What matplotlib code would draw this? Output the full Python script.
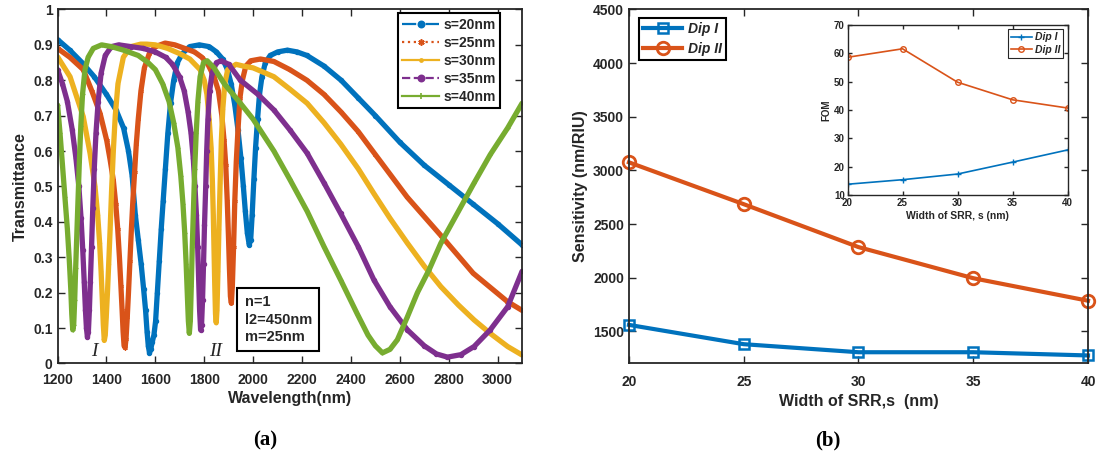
import matplotlib.pyplot as plt
from matplotlib.lines import Line2D

plt.rcParams["font.family"] = ["Liberation Sans", "DejaVu Sans"]
plt.rcParams["font.weight"] = "bold"
plt.rcParams["text.color"] = "#262626"
plt.rcParams["axes.labelcolor"] = "#262626"
plt.rcParams["xtick.color"] = "#262626"
plt.rcParams["ytick.color"] = "#262626"

# ---- (a) transmittance spectra for different SRR widths ----
wl_s20 = [1200, 1250, 1300, 1350, 1400, 1440, 1470, 1490, 1505, 1518, 1530, 1542, 1552, 1560,
          1566, 1571, 1576, 1581, 1587, 1594, 1601, 1608, 1616, 1624, 1632, 1641, 1651, 1662,
          1675, 1690, 1710, 1740, 1780, 1820, 1850, 1875, 1895, 1910, 1925, 1938, 1950, 1960,
          1968, 1976, 1984, 1990, 1996, 2003, 2010, 2018, 2026, 2036, 2050, 2070, 2100, 2140,
          2180, 2220, 2290, 2360, 2430, 2500, 2600, 2700, 2800, 2900, 3000, 3100]
t_s20 = [0.915, 0.885, 0.85, 0.81, 0.76, 0.715, 0.665, 0.60, 0.53, 0.42, 0.35, 0.28, 0.21, 0.15,
         0.09, 0.05, 0.03, 0.04, 0.06, 0.08, 0.12, 0.20, 0.29, 0.38, 0.46, 0.55, 0.65, 0.735,
         0.80, 0.85, 0.875, 0.895, 0.90, 0.895, 0.88, 0.86, 0.83, 0.79, 0.73, 0.66, 0.58, 0.50,
         0.43, 0.37, 0.335, 0.35, 0.42, 0.52, 0.61, 0.69, 0.76, 0.81, 0.85, 0.87, 0.88, 0.885,
         0.88, 0.87, 0.84, 0.80, 0.75, 0.70, 0.625, 0.56, 0.505, 0.45, 0.395, 0.335]

wl_s25 = [1200, 1250, 1305, 1340, 1374, 1401, 1415, 1428, 1438, 1446, 1453, 1459, 1464, 1468,
          1472, 1476, 1480, 1485, 1490, 1496, 1502, 1508, 1515, 1522, 1530, 1541, 1555, 1575,
          1600, 1640, 1680, 1720, 1760, 1790, 1815, 1840, 1858, 1872, 1881, 1888, 1894, 1899,
          1903, 1907, 1911, 1915, 1920, 1925, 1931, 1938, 1946, 1956, 1970, 1990, 2030, 2085,
          2150, 2220, 2290, 2360, 2430, 2500, 2630, 2770, 2900, 3040, 3100]
t_s25 = [0.89, 0.865, 0.83, 0.77, 0.706, 0.63, 0.575, 0.518, 0.45, 0.38, 0.30, 0.22, 0.15, 0.09,
         0.05, 0.045, 0.07, 0.13, 0.20, 0.29, 0.38, 0.46, 0.54, 0.62, 0.69, 0.77, 0.835, 0.875,
         0.895, 0.905, 0.90, 0.89, 0.88, 0.865, 0.845, 0.81, 0.77, 0.70, 0.63, 0.56, 0.46, 0.36,
         0.27, 0.19, 0.17, 0.22, 0.33, 0.46, 0.57, 0.66, 0.75, 0.80, 0.84, 0.855, 0.86, 0.853,
         0.83, 0.80, 0.76, 0.71, 0.655, 0.59, 0.47, 0.36, 0.255, 0.175, 0.15]

wl_s30 = [1200, 1251, 1305, 1333, 1353, 1364, 1372, 1378, 1383, 1387, 1391, 1395, 1399, 1404,
          1409, 1415, 1421, 1428, 1436, 1447, 1469, 1500, 1540, 1565, 1600, 1650, 1700, 1741,
          1783, 1800, 1811, 1820, 1828, 1833, 1837, 1840, 1843, 1846, 1849, 1852, 1856, 1860,
          1865, 1870, 1876, 1884, 1896, 1930, 1960, 2000, 2085, 2150, 2221, 2290, 2358, 2430,
          2494, 2560, 2631, 2700, 2768, 2840, 2904, 2970, 3041, 3100]
t_s30 = [0.866, 0.81, 0.697, 0.593, 0.50, 0.42, 0.34, 0.26, 0.18, 0.11, 0.065, 0.08, 0.13, 0.20,
         0.28, 0.38, 0.49, 0.60, 0.70, 0.79, 0.865, 0.895, 0.902, 0.902, 0.90, 0.89, 0.875, 0.86,
         0.83, 0.80, 0.76, 0.69, 0.61, 0.52, 0.42, 0.32, 0.22, 0.14, 0.115, 0.15, 0.26, 0.38,
         0.51, 0.63, 0.72, 0.79, 0.83, 0.845, 0.84, 0.835, 0.81, 0.775, 0.735, 0.68, 0.62, 0.55,
         0.48, 0.41, 0.34, 0.275, 0.217, 0.165, 0.123, 0.085, 0.048, 0.024]

wl_s35 = [1200, 1220, 1240, 1260, 1275, 1287, 1296, 1303, 1309, 1314, 1318, 1322, 1326, 1330,
          1334, 1339, 1344, 1350, 1357, 1366, 1378, 1395, 1420, 1450, 1500, 1550, 1600, 1642,
          1670, 1699, 1718, 1734, 1746, 1755, 1762, 1768, 1773, 1777, 1781, 1785, 1789, 1793,
          1797, 1801, 1806, 1810, 1815, 1822, 1832, 1850, 1870, 1900, 1948, 2020, 2085, 2150,
          2221, 2290, 2358, 2430, 2494, 2560, 2631, 2700, 2750, 2795, 2850, 2904, 2970, 3041, 3100]
t_s35 = [0.83, 0.79, 0.74, 0.66, 0.58, 0.50, 0.41, 0.32, 0.23, 0.15, 0.10, 0.075, 0.09, 0.15,
         0.23, 0.33, 0.44, 0.55, 0.65, 0.74, 0.82, 0.87, 0.895, 0.90, 0.895, 0.89, 0.88, 0.865,
         0.845, 0.81, 0.77, 0.71, 0.65, 0.58, 0.50, 0.42, 0.33, 0.24, 0.15, 0.095, 0.11, 0.18,
         0.28, 0.39, 0.50, 0.60, 0.69, 0.77, 0.82, 0.85, 0.855, 0.845, 0.80, 0.76, 0.716, 0.66,
         0.594, 0.51, 0.424, 0.33, 0.236, 0.16, 0.095, 0.05, 0.027, 0.018, 0.025, 0.048, 0.095,
         0.16, 0.26]

wl_s40 = [1200, 1210, 1220, 1230, 1240, 1248, 1254, 1258, 1262, 1266, 1270, 1274, 1279, 1284,
          1289, 1295, 1302, 1312, 1325, 1346, 1380, 1420, 1470, 1530, 1570, 1600, 1630, 1656,
          1675, 1692, 1704, 1713, 1720, 1726, 1731, 1735, 1739, 1743, 1747, 1751, 1756, 1761,
          1767, 1774, 1783, 1797, 1812, 1840, 1882, 1948, 2000, 2085, 2150, 2221, 2290, 2358,
          2426, 2470, 2500, 2529, 2560, 2590, 2630, 2672, 2720, 2768, 2840, 2904, 2970, 3041, 3100]
t_s40 = [0.73, 0.65, 0.56, 0.47, 0.38, 0.29, 0.21, 0.14, 0.095, 0.11, 0.18, 0.27, 0.37, 0.47,
         0.57, 0.67, 0.76, 0.83, 0.865, 0.89, 0.90, 0.895, 0.885, 0.87, 0.85, 0.83, 0.79, 0.74,
         0.68, 0.61, 0.53, 0.45, 0.37, 0.28, 0.19, 0.12, 0.085, 0.12, 0.22, 0.33, 0.44, 0.55,
         0.65, 0.74, 0.81, 0.85, 0.855, 0.835, 0.79, 0.735, 0.69, 0.60, 0.52, 0.43, 0.33, 0.236,
         0.14, 0.08, 0.05, 0.03, 0.04, 0.067, 0.13, 0.20, 0.265, 0.34, 0.43, 0.51, 0.59, 0.665, 0.735]

spectra = [
    ("s=20nm", wl_s20, t_s20, "#0072BD", "-.", "o"),
    ("s=25nm", wl_s25, t_s25, "#D95319", ":", (6, 2, 0)),
    ("s=30nm", wl_s30, t_s30, "#EDB120", "-", "."),
    ("s=35nm", wl_s35, t_s35, "#7E2F8E", "--", "o"),
    ("s=40nm", wl_s40, t_s40, "#77AC30", "-", "+"),
]

# ---- (b) sensitivity and FOM vs SRR width ----
width_s = [20, 25, 30, 35, 40]
sens_dip1 = [1560, 1380, 1305, 1305, 1275]
sens_dip2 = [3075, 2685, 2285, 1995, 1785]
fom_dip1 = [13.8, 15.4, 17.4, 21.6, 25.9]
fom_dip2 = [58.6, 61.6, 49.8, 43.6, 40.7]

BLUE = "#0072BD"
ORANGE = "#D95319"

fig = plt.figure(figsize=(10.99, 4.61), dpi=100)
ax1 = fig.add_axes([0.0524, 0.2115, 0.4226, 0.768])
ax2 = fig.add_axes([0.5723, 0.2115, 0.4177, 0.768])
ax3 = fig.add_axes([0.7712, 0.577, 0.2002, 0.3688])


def style_axes(ax, size, width=1.3, length=5):
    for sp in ax.spines.values():
        sp.set_linewidth(width)
        sp.set_color("#262626")
    ax.tick_params(direction="in", top=True, right=True, length=length,
                   width=1.0, labelsize=size)


# left panel: thick band underneath, styled line with markers on top
handles = []
for label, wl, t, color, ls, mk in spectra:
    ax1.plot(wl, t, color=color, lw=3.8, solid_capstyle="round", solid_joinstyle="round")
    ax1.plot(wl, t, color=color, ls=ls, lw=1.0, marker=mk, ms=3, mew=0.9,
             mfc=color if mk != "o" or ls == "--" else "none")
    handles.append(Line2D([], [], color=color, ls=ls, lw=1.6, marker=mk, ms=4.5, mew=1.2))

ax1.set_xlim(1200, 3100)
ax1.set_ylim(0, 1)
ax1.set_xticks(range(1200, 3001, 200))
ax1.set_yticks([i / 10 for i in range(11)])
ax1.set_yticklabels(["0"] + [f"{i / 10:.1f}" for i in range(1, 10)] + ["1"])
ax1.set_xlabel("Wavelength(nm)", fontsize=11.5, fontweight="bold", labelpad=3)
ax1.set_ylabel("Transmittance", fontsize=11.5, fontweight="bold", labelpad=4)
style_axes(ax1, 10)
ax1.tick_params(axis="x", pad=7)

leg1 = ax1.legend(handles, [s[0] for s in spectra], loc="upper right",
                  bbox_to_anchor=(0.9526, 0.9887), borderaxespad=0, fontsize=10,
                  handlelength=2.7, handletextpad=0.3, labelspacing=0.3,
                  borderpad=0.3, fancybox=False, framealpha=1, edgecolor="black")
leg1.get_frame().set_linewidth(1.5)
for txt in leg1.get_texts():
    txt.set_fontweight("bold")

ax1.text(1965, 0.124, "n=1\nl2=450nm\nm=25nm", fontsize=10.5, fontweight="bold",
         ha="left", va="center", linespacing=1.3,
         bbox=dict(boxstyle="square,pad=0.5", fc="white", ec="black", lw=1.5))
ax1.text(1350, 0.035, "I", fontsize=14, fontfamily="Liberation Serif", fontstyle="italic",
         fontweight="normal", ha="center", va="center")
ax1.text(1848, 0.035, "II", fontsize=14, fontfamily="Liberation Serif", fontstyle="italic",
         fontweight="normal", ha="center", va="center")

# right panel
ax2.plot(width_s, sens_dip1, color=BLUE, lw=3, marker="s", ms=7, mew=1.8, mfc="none",
         label="Dip I", clip_on=False)
ax2.plot(width_s, sens_dip2, color=ORANGE, lw=3, marker="o", ms=9, mew=2, mfc="none",
         label="Dip II", clip_on=False)
ax2.set_xlim(20, 40)
ax2.set_ylim(1200, 4500)
ax2.set_xticks(width_s)
ax2.set_yticks(range(1500, 4501, 500))
ax2.set_xlabel("Width of SRR,s  (nm)", fontsize=11.5, fontweight="bold", labelpad=4)
ax2.set_ylabel("Sensitivity (nm/RIU)", fontsize=11.5, fontweight="bold", labelpad=4)
style_axes(ax2, 10)
ax2.tick_params(axis="x", pad=8)

leg2 = ax2.legend(loc="upper left", bbox_to_anchor=(0.0218, 0.9766), borderaxespad=0,
                  fontsize=10, handlelength=2.8, handletextpad=0.4, labelspacing=0.45,
                  borderpad=0.3, fancybox=False, framealpha=1, edgecolor="black")
leg2.get_frame().set_linewidth(1.5)
for txt in leg2.get_texts():
    txt.set_fontweight("bold")
    txt.set_fontstyle("italic")

# inset: figure of merit
ax3.plot(width_s, fom_dip1, color=BLUE, lw=1.2, marker="+", ms=5, mew=1.0, label="Dip I")
ax3.plot(width_s, fom_dip2, color=ORANGE, lw=1.2, marker="o", ms=4, mew=1.0, mfc="none",
         label="Dip II")
ax3.set_xlim(20, 40)
ax3.set_ylim(10, 70)
ax3.set_xticks(width_s)
ax3.set_yticks(range(10, 71, 10))
ax3.set_xlabel("Width of SRR, s (nm)", fontsize=7.5, fontweight="bold", labelpad=2)
ax3.set_ylabel("FOM", fontsize=7, fontweight="bold", labelpad=2)
style_axes(ax3, 7, width=1.0, length=3)
ax3.tick_params(pad=2)

leg3 = ax3.legend(loc="upper right", bbox_to_anchor=(0.98, 0.975), borderaxespad=0,
                  fontsize=7.5, handlelength=2.0, handletextpad=0.3, labelspacing=0.25,
                  borderpad=0.3, fancybox=False, framealpha=1, edgecolor="#262626")
leg3.get_frame().set_linewidth(0.8)
for txt in leg3.get_texts():
    txt.set_fontweight("bold")
    txt.set_fontstyle("italic")

fig.text(265 / 1099, 1 - 440 / 461, "(a)", fontsize=15, fontweight="bold",
         fontfamily="Liberation Serif", ha="center", va="center", color="black")
fig.text(828 / 1099, 1 - 440 / 461, "(b)", fontsize=15, fontweight="bold",
         fontfamily="Liberation Serif", ha="center", va="center", color="black")

fig.savefig("out.png", dpi=100)
plt.close(fig)
